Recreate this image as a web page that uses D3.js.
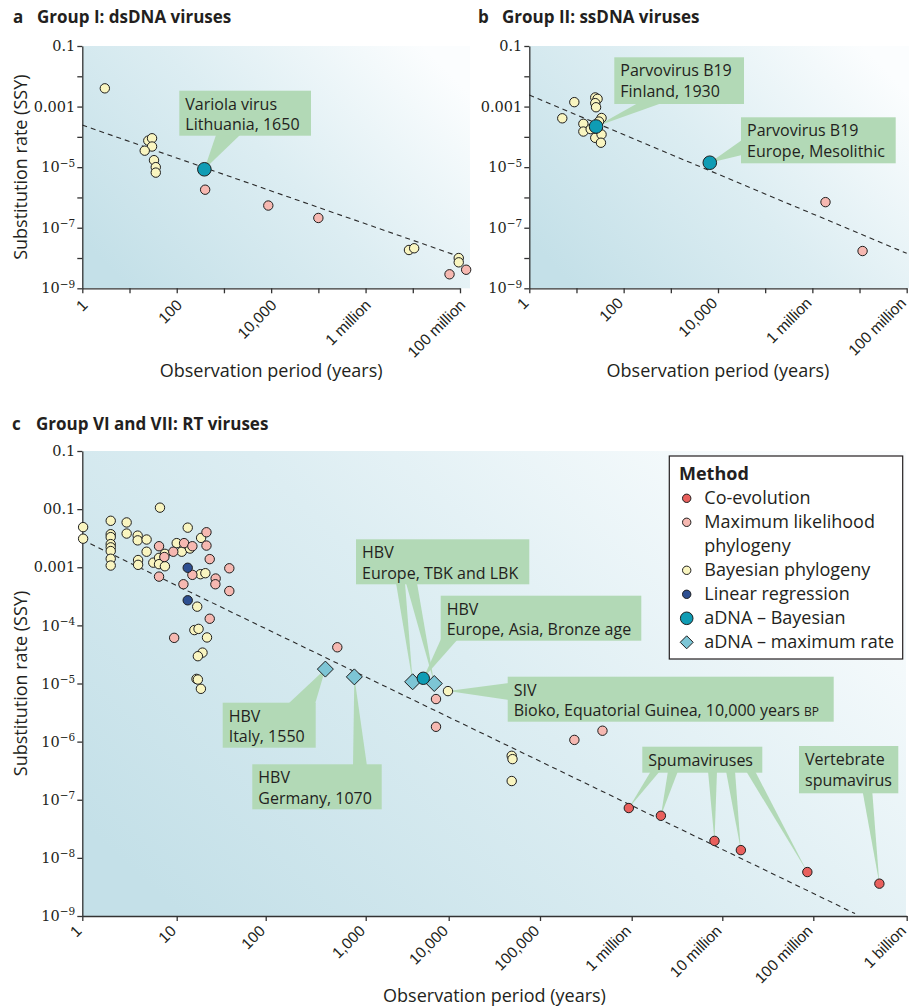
<!DOCTYPE html>
<html>
<head>
<meta charset="utf-8">
<title>Substitution rate vs observation period</title>
<script src="https://d3js.org/d3.v7.min.js"></script>
<style>
  body { margin: 0; background: #fff; }
  svg { font-family: "Open Sans", sans-serif; fill: #231f20; }
  .ttl { font-weight: bold; font-size: 17px; }
  .axt { font-size: 18px; }
  .ytk text { font-family: "DejaVu Serif", serif; font-size: 14.5px; fill: #231f20; }
  .xtk text { font-size: 15.5px; fill: #231f20; }
  .axis path, .axis line { stroke: #333; stroke-width: 1.3; }
  .note text { font-size: 16px; }
  .leg text { font-size: 18px; }
</style>
</head>
<body>
<svg id="fig" width="909" height="1008"></svg>
<script>
// ---------- data ----------
// panel a: dsDNA viruses
var aYears  = [3, 25, 30, 30, 21, 33, 36, 36, 400, 8700, 1e5, 8.3e6, 1.07e7, 9.4e7, 9.4e7, 6e7, 1.35e8, 385];
var aRates  = [4e-3, 7.5e-5, 9e-5, 4.8e-5, 3.5e-5, 1.7e-5, 1e-5, 6.6e-6, 1.8e-6, 5.4e-7, 2.1e-7, 1.84e-8, 2.1e-8, 1e-8, 7.2e-9, 2.9e-9, 4.1e-9, 8.5e-6];
var aMethod = ["bayes","bayes","bayes","bayes","bayes","bayes","bayes","bayes","ml","ml","ml","bayes","bayes","bayes","bayes","ml","ml","adnaB"];
var aLineYears = [1, 1e8];
var aLineRates = [2.45e-4, 1.1e-8];

// panel b: ssDNA viruses
var bYears  = [5, 9, 25, 28, 25, 26, 34, 14, 14, 20, 25, 34, 33, 30, 26, 6700, 1.9e6, 1.16e7];
var bRates  = [4.1e-4, 1.4e-3, 2e-3, 1.8e-3, 1.3e-3, 9.5e-4, 4.2e-4, 2.7e-4, 1.5e-4, 1.8e-4, 9.3e-5, 1.2e-4, 6.4e-5, 3.2e-4, 2.2e-4, 1.4e-5, 7e-7, 1.7e-8];
var bMethod = ["bayes","bayes","bayes","bayes","bayes","bayes","bayes","bayes","bayes","bayes","bayes","bayes","bayes","bayes","adnaB","adnaB","ml","ml"];
var bLineYears = [1, 1e8];
var bLineRates = [2.4e-3, 1.43e-8];

// panel c: RT viruses
var cYears = [
  // Bayesian phylogeny
  1.02, 1.02, 2, 2, 2, 2, 2, 2, 2, 2, 2.95, 2.95, 3.86, 3.86, 4.8, 3.9, 3.9, 4.8, 5.65, 6.5,
  6.5, 7.5, 7.5, 6.65, 10, 11.4, 13.3, 14.1, 18.8, 18.5, 21, 17, 15.8, 17.6, 21.9, 19.5, 17.3, 16.7, 17.3, 18.7,
  9800, 4.9e4, 5e4, 4.9e4,
  // maximum likelihood phylogeny
  6.5, 6.5, 7.4, 9.2, 12.1, 15, 15, 11.9, 21.6, 21.6, 23.5, 27.4, 27.2, 39, 39, 23.5, 9.4, 520, 7030, 7030, 2.37e5, 4.8e5,
  // linear regression
  13.3, 13.3,
  // co-evolution
  9.3e5, 2.1e6, 8.2e6, 1.6e7, 8.6e7, 5.1e8,
  // aDNA
  395, 770, 3680, 6700, 4940
];
var cRates = [
  4.9e-3, 3.1e-3, 6.3e-3, 3.7e-3, 3.3e-3, 2.5e-3, 2.2e-3, 1.9e-3, 1.4e-3, 1.07e-3, 5.9e-3, 3.8e-3, 3.5e-3, 2.9e-3, 3e-3, 1.33e-3, 1.1e-3, 1.85e-3, 1.2e-3, 1.45e-3,
  1.13e-3, 1.04e-3, 1.7e-3, 1.06e-2, 2.6e-3, 1.85e-3, 4.8e-3, 2.1e-3, 3.2e-3, 7.6e-4, 7.9e-4, 2.1e-4, 8.3e-5, 8.7e-5, 6.2e-5, 3.4e-5, 2.95e-5, 1.2e-5, 1.17e-5, 8.1e-6,
  7.4e-6, 5.7e-7, 5e-7, 2.1e-7,
  2.3e-3, 6.9e-4, 1.5e-3, 1.85e-3, 2.6e-3, 2.3e-3, 7.4e-4, 5.1e-4, 4e-3, 2.36e-3, 1.38e-3, 6.4e-4, 5.1e-4, 9.6e-4, 3.9e-4, 1.3e-4, 6.1e-5, 4.2e-5, 5.4e-6, 1.8e-6, 1.07e-6, 1.54e-6,
  9.8e-4, 2.7e-4,
  7.2e-8, 5.3e-8, 1.96e-8, 1.36e-8, 5.7e-9, 3.6e-9,
  1.77e-5, 1.3e-5, 1.07e-5, 1e-5, 1.23e-5
];
var cMethod = [].concat(
  d3.range(44).map(function() { return "bayes"; }),
  d3.range(22).map(function() { return "ml"; }),
  ["linreg", "linreg"],
  d3.range(6).map(function() { return "coev"; }),
  ["adnaMax", "adnaMax", "adnaMax", "adnaMax", "adnaB"]
);
var cLineYears = [1, 2.8e8];
var cLineRates = [2.95e-3, 1.1e-9];

// ticks
var abXTicks  = [1, 10, 100, 1e3, 1e4, 1e5, 1e6, 1e7, 1e8];
var abXLabels = ["1", "", "100", "", "10,000", "", "1 million", "", "100 million"];
var abYTicks  = [1e-1, 1e-2, 1e-3, 1e-4, 1e-5, 1e-6, 1e-7, 1e-8, 1e-9];
var abYLabels = ["0.1", "", "0.001", "", "10^\u22125", "", "10^\u22127", "", "10^\u22129"];
var cXTicks   = [1, 10, 100, 1e3, 1e4, 1e5, 1e6, 1e7, 1e8, 1e9];
var cXLabels  = ["1", "10", "100", "1,000", "10,000", "100,000", "1 million", "10 million", "100 million", "1 billion"];
var cYTicks   = [1e-1, 1e-2, 1e-3, 1e-4, 1e-5, 1e-6, 1e-7, 1e-8, 1e-9];
var cYLabels  = ["0.1", "00.1", "0.001", "10^\u22124", "10^\u22125", "10^\u22126", "10^\u22127", "10^\u22128", "10^\u22129"];

// legend
var legendKeys   = ["coev", "ml", "bayes", "linreg", "adnaB", "adnaMax"];
var legendLabels = [["Co-evolution"], ["Maximum likelihood", "phylogeny"], ["Bayesian phylogeny"],
                    ["Linear regression"], ["aDNA \u2013 Bayesian"], ["aDNA \u2013 maximum rate"]];

var fills = { coev: "#e9605d", ml: "#f6b8b1", bayes: "#f9f5c0", linreg: "#2d4f91", adnaB: "#0f9cb4", adnaMax: "#7dc5d5" };
var drawOrder = { bayes: 0, ml: 1, linreg: 2, coev: 3, adnaMax: 4, adnaB: 5 };

// ---------- drawing ----------
var svg = d3.select("#fig");
var defs = svg.append("defs");
var grad = defs.append("linearGradient").attr("id", "bg")
    .attr("x1", 0).attr("y1", 0.8).attr("x2", 1).attr("y2", 0.2);
grad.selectAll("stop")
    .data([[0, "#c4e0e8"], [0.5, "#dcedf2"], [1, "#fbfdfe"]])
    .enter().append("stop")
    .attr("offset", function(d) { return d[0]; })
    .attr("stop-color", function(d) { return d[1]; });

// find k-th point of a method, used to aim the callout pointers
function pick(methods, m, k) {
    var idx = [];
    methods.forEach(function(d, i) { if (d === m) idx.push(i); });
    return idx[k];
}

function labelTicks(sel, labels) {
    sel.selectAll(".tick text").each(function(d, i) {
        var t = d3.select(this), lab = labels[i];
        t.text(null);
        if (lab.indexOf("^") >= 0) {
            var parts = lab.split("^");
            t.append("tspan").text(parts[0]);
            t.append("tspan").attr("dy", "-0.55em").attr("font-size", "10.5px").text(parts[1]);
        } else {
            t.text(lab);
        }
    });
}

function drawPanel(p) {
    var g = svg.append("g");
    var x = p.x, y = p.y;

    g.append("rect")
        .attr("x", p.bg[0]).attr("y", p.bg[1])
        .attr("width", p.bg[2] - p.bg[0]).attr("height", p.bg[3] - p.bg[1])
        .attr("fill", "url(#bg)");

    // axes
    var yAx = g.append("g").attr("class", "axis ytk")
        .attr("transform", "translate(" + x.range()[0] + ",0)")
        .call(d3.axisLeft(y).tickValues(p.yTicks).tickSize(5).tickPadding(2).tickSizeOuter(0));
    labelTicks(yAx, p.yLabels);

    var xAx = g.append("g").attr("class", "axis xtk")
        .attr("transform", "translate(0," + y.range()[0] + ")")
        .call(d3.axisBottom(x).tickValues(p.xTicks).tickSize(5).tickSizeOuter(0)
              .tickFormat(function(d, i) { return p.xLabels[i]; }));
    xAx.selectAll(".tick text")
        .attr("x", 0).attr("y", 0).attr("dy", "0.35em")
        .attr("text-anchor", "end")
        .attr("transform", "translate(" + p.xLabelShift + ") rotate(-45)");
    g.selectAll(".axis .domain").attr("fill", "none");

    // trend line
    g.append("path")
        .datum(d3.zip(p.lineYears, p.lineRates))
        .attr("d", d3.line().x(function(d) { return x(d[0]); }).y(function(d) { return y(d[1]); }))
        .attr("fill", "none").attr("stroke", "#2a2a2a").attr("stroke-width", 1.1)
        .attr("stroke-dasharray", "5,4");

    // callouts
    var notes = g.selectAll(".note").data(p.notes).enter().append("g").attr("class", "note");
    notes.each(function(n) {
        var ng = d3.select(this);
        n.ptrs.forEach(function(pt) {
            var i = pick(p.method, pt.m, pt.k);
            var tip = [x(p.years[i]), y(p.rates[i])];
            ng.append("path")
                .attr("d", "M" + pt.base[0] + "L" + pt.base[1] + "L" + tip + "Z")
                .attr("fill", "#b2d9b6");
        });
        ng.append("rect").attr("x", n.box[0]).attr("y", n.box[1])
            .attr("width", n.box[2]).attr("height", n.box[3]).attr("fill", "#b2d9b6");
        n.lines.forEach(function(line, li) {
            var t = ng.append("text").attr("x", n.box[0] + 6).attr("y", n.box[1] + 19 + li * 20.5);
            if (/ BP$/.test(line)) {
                t.append("tspan").text(line.slice(0, -2));
                t.append("tspan").attr("font-size", "12px").text("BP");
            } else {
                t.text(line);
            }
        });
    });

    // markers
    var order = d3.range(p.years.length).sort(function(a, b) {
        return drawOrder[p.method[a]] - drawOrder[p.method[b]] || a - b;
    });
    var mk = g.selectAll(".mk").data(order).enter().append("g")
        .attr("transform", function(i) { return "translate(" + x(p.years[i]) + "," + y(p.rates[i]) + ")"; });
    mk.each(function(i) {
        var m = p.method[i], s = d3.select(this);
        if (m === "adnaMax") {
            var h = p.dHalf;
            s.append("path").attr("d", "M0," + (-h) + "L" + h + ",0L0," + h + "L" + (-h) + ",0Z");
        } else {
            s.append("circle").attr("r", m === "adnaB" ? p.rBig : p.rSmall);
        }
        s.selectAll("*").attr("fill", fills[m]).attr("stroke", "#1e1e1e").attr("stroke-width", 1);
    });

    // titles
    g.append("text").attr("class", "axt").attr("text-anchor", "middle")
        .attr("x", (x.range()[0] + x.range()[x.range().length - 1]) / 2).attr("y", p.xTitleY)
        .text("Observation period (years)");
    if (p.yTitle) {
        g.append("text").attr("class", "axt").attr("text-anchor", "middle")
            .attr("transform", "translate(" + p.yTitleX + "," + (y.range()[0] + y.range()[1]) / 2 + ") rotate(-90)")
            .text("Substitution rate (SSY)");
    }
    var tt = g.append("text").attr("class", "ttl").attr("x", p.title[0]).attr("y", p.title[1]);
    tt.append("tspan").text(p.title[2]);
    tt.append("tspan").attr("x", p.title[0] + 24).text(p.title[3]);
    return g;
}

// panel a
drawPanel({
    x: d3.scaleLog().domain([1, 1e8]).range([82.3, 460]),
    y: d3.scaleLog().domain([1e-9, 0.1]).range([288.3, 46]),
    bg: [82.3, 46, 470, 288.3],
    years: aYears, rates: aRates, method: aMethod,
    lineYears: aLineYears, lineRates: aLineRates,
    xTicks: abXTicks, xLabels: abXLabels, yTicks: abYTicks, yLabels: abYLabels,
    xLabelShift: [2, 14],
    rSmall: 4.7, rBig: 6.8, dHalf: 7,
    xTitleY: 377, yTitle: true, yTitleX: 27,
    title: [13, 23, "a", "Group I: dsDNA viruses"],
    notes: [
        { lines: ["Variola virus", "Lithuania, 1650"], box: [179.3, 90.7, 131.7, 45],
          ptrs: [{ m: "adnaB", k: 0, base: [[216, 135], [240, 135]] }] }
    ]
});

// panel b
drawPanel({
    x: d3.scaleLog().domain([1, 1e8]).range([529.3, 906.7]),
    y: d3.scaleLog().domain([1e-9, 0.1]).range([288.3, 46]),
    bg: [529.3, 46, 909, 288.3],
    years: bYears, rates: bRates, method: bMethod,
    lineYears: bLineYears, lineRates: bLineRates,
    xTicks: abXTicks, xLabels: abXLabels, yTicks: abYTicks, yLabels: abYLabels,
    xLabelShift: [-4, 12],
    rSmall: 4.7, rBig: 6.8, dHalf: 7,
    xTitleY: 377, yTitle: false,
    title: [478, 23, "b", "Group II: ssDNA viruses"],
    notes: [
        { lines: ["Parvovirus B19", "Finland, 1930"], box: [614.3, 57.3, 129.7, 46.7],
          ptrs: [{ m: "adnaB", k: 0, base: [[638, 103], [662, 103]] }] },
        { lines: ["Parvovirus B19", "Europe, Mesolithic"], box: [741, 117.3, 154.7, 46],
          ptrs: [{ m: "adnaB", k: 1, base: [[742, 140], [742, 155]] }] }
    ]
});

// panel c
var gc = drawPanel({
    x: d3.scaleLog().domain(cXTicks).range([82.3, 176.7, 265.7, 365.7, 448.7, 540, 631.7, 722.3, 813.3, 906.7]),
    y: d3.scaleLog().domain([1e-9, 0.1]).range([916, 451]),
    bg: [82.3, 451, 906, 916],
    years: cYears, rates: cRates, method: cMethod,
    lineYears: cLineYears, lineRates: cLineRates,
    xTicks: cXTicks, xLabels: cXLabels, yTicks: cYTicks, yLabels: cYLabels,
    xLabelShift: [-4, 12],
    rSmall: 4.7, rBig: 6.2, dHalf: 8,
    xTitleY: 1002, yTitle: true, yTitleX: 27,
    title: [12, 430, "c", "Group VI and VII: RT viruses"],
    notes: [
        { lines: ["HBV", "Europe, TBK and LBK"], box: [356, 539.3, 173.3, 45],
          ptrs: [{ m: "adnaMax", k: 2, base: [[396, 583], [405, 583]] },
                 { m: "adnaMax", k: 3, base: [[406, 583], [417, 583]] }] },
        { lines: ["HBV", "Europe, Asia, Bronze age"], box: [440.7, 595.7, 200.6, 45],
          ptrs: [{ m: "adnaB", k: 0, base: [[441, 639], [458, 639]] }] },
        { lines: ["SIV", "Bioko, Equatorial Guinea, 10,000 years BP"], box: [507.7, 676.7, 326, 45],
          ptrs: [{ m: "bayes", k: 40, base: [[509, 683], [509, 700]] }] },
        { lines: ["HBV", "Italy, 1550"], box: [222.7, 702.7, 93, 45],
          ptrs: [{ m: "adnaMax", k: 0, base: [[288, 704], [315, 704]] }] },
        { lines: ["HBV", "Germany, 1070"], box: [252.3, 764.3, 129.4, 45],
          ptrs: [{ m: "adnaMax", k: 1, base: [[353, 766], [367, 766]] }] },
        { lines: ["Spumaviruses"], box: [642.3, 746.7, 120, 26],
          ptrs: [{ m: "coev", k: 0, base: [[651, 771], [660, 771]] },
                 { m: "coev", k: 1, base: [[668, 771], [678, 771]] },
                 { m: "coev", k: 2, base: [[708, 771], [717, 771]] },
                 { m: "coev", k: 3, base: [[726, 771], [735, 771]] },
                 { m: "coev", k: 4, base: [[746, 771], [755, 771]] }] },
        { lines: ["Vertebrate", "spumavirus"], box: [799, 746, 99.3, 47.3],
          ptrs: [{ m: "coev", k: 5, base: [[862.7, 792], [872.3, 792]] }] }
    ]
});

// legend
var leg = gc.append("g").attr("class", "leg");
leg.append("rect").attr("x", 669.3).attr("y", 456).attr("width", 233.4).attr("height", 203)
    .attr("fill", "#fff").attr("stroke", "#231f20").attr("stroke-width", 1.2);
leg.append("text").attr("x", 679).attr("y", 480).attr("font-weight", "bold").text("Method");
var row = 0;
legendKeys.forEach(function(k, i) {
    var cy = 498.3 + row * 24;
    var s = leg.append("g").attr("transform", "translate(686.7," + cy + ")");
    if (k === "adnaMax") {
        s.append("path").attr("d", "M0,-6.5L6.5,0L0,6.5L-6.5,0Z");
    } else {
        s.append("circle").attr("r", k === "adnaB" ? 6.3 : 4.2);
    }
    s.selectAll("*").attr("fill", fills[k]).attr("stroke", "#1e1e1e").attr("stroke-width", 1);
    legendLabels[i].forEach(function(line, li) {
        leg.append("text").attr("x", 704.3).attr("y", cy + 6 + li * 24).text(line);
    });
    row += legendLabels[i].length;
});
</script>
</body>
</html>
